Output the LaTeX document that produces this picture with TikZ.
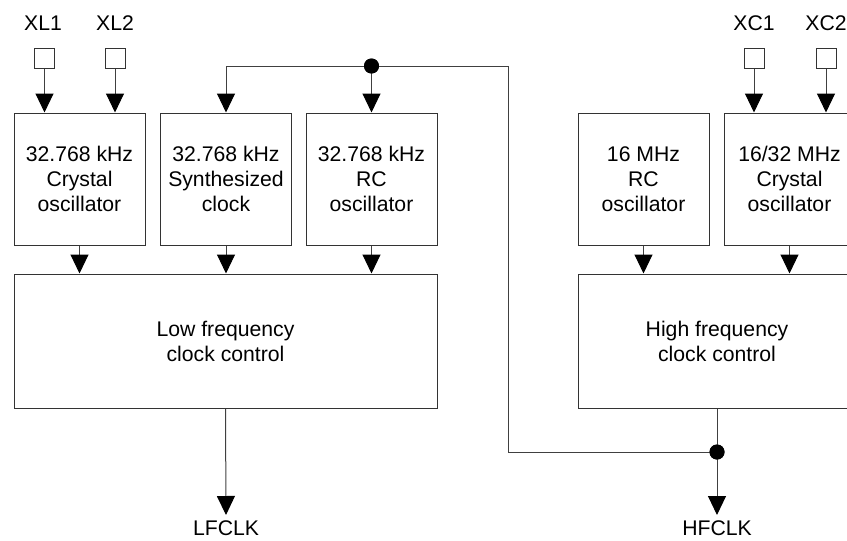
\documentclass[tikz,border=0pt]{standalone}
\usepackage{fontspec}
\setmainfont{Liberation Sans}
\usetikzlibrary{arrows.meta}
\begin{document}
\begin{tikzpicture}[x=1pt,y=-1pt,
  every node/.style={font=\fontsize{21.2}{25}\selectfont, text=black},
  box/.style={draw=black!80, line width=1pt, inner sep=0pt, align=center, minimum width=131pt, minimum height=132pt},
  ctrl/.style={draw=black!80, line width=1pt, inner sep=0pt, align=center, minimum height=134pt},
  pin/.style={draw=black!80, line width=1pt, inner sep=0pt, minimum size=20pt},
  lbl/.style={inner sep=0pt},
  conn/.style={draw=black!75, line width=1pt},
  arr/.style={conn, -{Triangle[width=18pt,length=19pt,color=black]}},
  dot/.style={circle, fill=black, inner sep=0pt, minimum size=15pt}
]
\useasboundingbox (0,0) rectangle (847,541);
\clip (0,0) rectangle (847,541);

% oscillator boxes
\node[box] (xo) at (79.5,179) {32.768 kHz\\Crystal\\oscillator};
\node[box] (so) at (226,179) {32.768 kHz\\Synthesized\\clock};
\node[box] (ro) at (371.5,179) {32.768 kHz\\RC\\oscillator};
\node[box] (hro) at (643.5,179) {16 MHz\\RC\\oscillator};
\node[box] (hxo) at (789.5,179) {16/32 MHz\\Crystal\\oscillator};

% control boxes
\node[ctrl, minimum width=423pt] (lfc) at (225.5,341) {Low frequency\\clock control};
\node[ctrl, minimum width=278pt] (hfc) at (717,341) {High frequency\\clock control};

% pins
\node[pin] (xl1) at (44.5,58) {};
\node[pin] (xl2) at (115,58) {};
\node[pin] (xc1) at (754,58) {};
\node[pin] (xc2) at (826,58) {};
\node[lbl] (txl1) at (43,23) {XL1};
\node[lbl] (txl2) at (115,23) {XL2};
\node[lbl] (txc1) at (754,23) {XC1};
\node[lbl] (txc2) at (826,23) {XC2};

% outputs
\node[lbl] (lfclk) at (226,528.5) {LFCLK};
\node[lbl] (hfclk) at (717,528.5) {HFCLK};

% junctions
\node[dot] (jdot) at (371.5,66) {};
\node[dot] (hdot) at (717,452) {};
\coordinate (c1) at (508,66);
\coordinate (c2) at (508,452);
\coordinate (lfend) at (226,515);
\coordinate (hfend) at (717,515);

% pin arrows
\draw[arr] (xl1.south) -- (xl1.south |- xo.north);
\draw[arr] (xl2.south) -- (xl2.south |- xo.north);
\draw[arr] (xc1.south) -- (xc1.south |- hxo.north);
\draw[arr] (xc2.south) -- (xc2.south |- hxo.north);

% HFCLK feed to LF oscillators
\draw[arr] (jdot.center) -| (so.north);
\draw[arr] (jdot.center) -- (ro.north);
\draw[conn] (jdot.center) -- (c1) -- (c2) -- (hdot.center);

% oscillator outputs
\draw[arr] (xo.south) -- (xo.south |- lfc.north);
\draw[arr] (so.south) -- (so.south |- lfc.north);
\draw[arr] (ro.south) -- (ro.south |- lfc.north);
\draw[arr] (hro.south) -- (hro.south |- hfc.north);
\draw[arr] (hxo.south) -- (hxo.south |- hfc.north);

% control outputs
\draw[arr] (lfc.south) -- (lfend);
\draw[conn] (hfc.south) -- (hdot.center);
\draw[arr] (hdot.center) -- (hfend);
\node[dot] at (jdot) {};
\node[dot] at (hdot) {};
\end{tikzpicture}
\end{document}
